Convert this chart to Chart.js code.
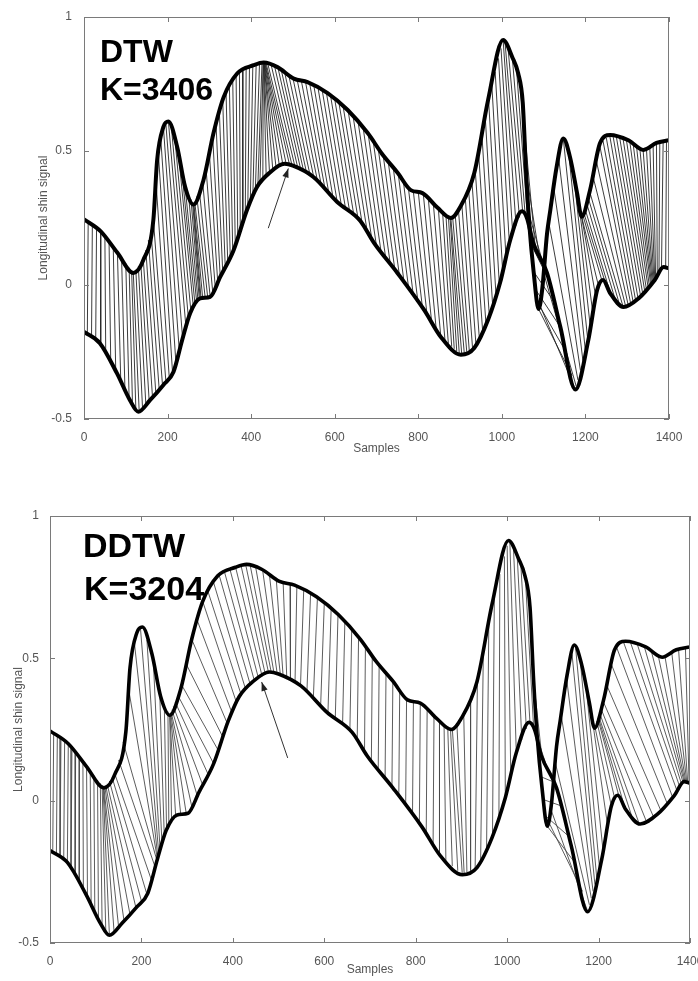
<!DOCTYPE html>
<html><head><meta charset="utf-8">
<script src="https://cdn.jsdelivr.net/npm/chart.js@4"></script>
<style>
html,body{margin:0;padding:0;background:#fff;overflow:hidden;width:698px;height:981px;position:relative;}
canvas{position:absolute;left:0;}
#c1{top:0}
#c2{top:460px}
</style></head><body>
<canvas id="c1" width="698" height="460"></canvas>
<canvas id="c2" width="730" height="521"></canvas>
<script>
// ---- signals (samples, value) ----
const upperX = [0,40,80,118,142,166,175,190,202,223,242,262,286,310,334,367,406,430,463,502,535,583,631,679,713,751,782,810,845,878,900,934,967,1003,1025,1039,1050,1058,1066,1076,1088,1097,1108,1116,1131,1147,1163,1180,1191,1211,1235,1259,1303,1339,1370,1400];
const upperY = [0.245,0.20,0.12,0.045,0.093,0.243,0.466,0.59,0.61,0.515,0.366,0.30,0.392,0.567,0.70,0.79,0.82,0.83,0.813,0.77,0.757,0.716,0.653,0.567,0.49,0.418,0.354,0.343,0.29,0.25,0.29,0.418,0.69,0.914,0.85,0.79,0.68,0.42,0.22,0.05,-0.09,-0.01,0.19,0.28,0.44,0.547,0.478,0.343,0.255,0.354,0.53,0.56,0.54,0.504,0.53,0.54];
const lowerX = [0,38,79,110,130,158,190,214,235,254,278,302,326,358,390,414,445,480,500,549,606,661,694,750,814,854,902,934,967,996,1020,1048,1060,1075,1108,1140,1176,1207,1228,1242,1259,1291,1327,1366,1387,1400];
const lowerY = [-0.175,-0.217,-0.33,-0.43,-0.473,-0.43,-0.373,-0.325,-0.205,-0.105,-0.05,-0.044,0.03,0.13,0.28,0.366,0.42,0.452,0.445,0.403,0.31,0.24,0.157,0.045,-0.093,-0.194,-0.26,-0.235,-0.13,0.01,0.168,0.275,0.25,0.157,0.045,-0.157,-0.39,-0.205,-0.019,0.019,-0.03,-0.082,-0.05,0.019,0.067,0.062];

// ---- warping paths: [upper sample, lower sample] ----
const dtwPairs = [[0,0],[10,8],[20,18],[30,28],[40,40],[50,52],[60,64],[70,76],[80,88],[90,98],[100,108],[108,116],[114,124],[118,132],[124,140],[130,148],[136,156],[142,164],[148,172],[154,180],[160,188],[166,196],[172,204],[178,212],[184,220],[190,228],[196,236],[202,244],[210,250],[218,256],[226,262],[234,266],[242,270],[250,273],[256,276],[260,278],[262,280],[263,284],[265,290],[270,296],[276,302],[284,308],[292,314],[300,320],[308,326],[316,332],[324,338],[332,344],[340,350],[348,356],[356,362],[364,368],[372,374],[380,380],[388,386],[396,392],[404,398],[412,404],[420,410],[426,416],[429,421],[429,428],[430,436],[430,444],[431,452],[431,460],[432,468],[433,476],[434,484],[436,492],[440,498],[448,505],[456,512],[464,519],[472,526],[480,533],[490,541],[500,550],[510,559],[520,568],[530,577],[540,586],[550,596],[560,606],[570,616],[580,626],[590,636],[600,646],[610,656],[620,666],[632,678],[644,689],[656,700],[668,711],[680,722],[692,733],[704,744],[716,755],[728,766],[740,777],[752,788],[764,799],[776,810],[788,821],[800,832],[812,843],[824,854],[836,864],[848,872],[858,880],[866,886],[872,892],[876,898],[878,904],[882,910],[888,916],[896,922],[904,930],[912,938],[920,946],[928,954],[936,962],[944,970],[952,978],[960,986],[968,994],[976,1002],[984,1010],[992,1018],[998,1026],[1003,1034],[1008,1042],[1015,1050],[1025,1056],[1035,1062],[1045,1070],[1052,1080],[1058,1090],[1064,1100],[1070,1112],[1076,1125],[1082,1140],[1086,1155],[1088,1168],[1090,1176],[1100,1178],[1112,1182],[1124,1188],[1136,1194],[1147,1200],[1160,1206],[1172,1212],[1182,1218],[1188,1225],[1191,1232],[1193,1240],[1195,1250],[1198,1260],[1202,1270],[1206,1280],[1210,1290],[1218,1296],[1226,1302],[1234,1308],[1242,1314],[1250,1320],[1258,1326],[1266,1332],[1274,1337],[1282,1342],[1290,1346],[1298,1350],[1306,1353],[1314,1356],[1322,1358],[1330,1360],[1338,1362],[1346,1364],[1354,1366],[1362,1368],[1370,1372],[1378,1376],[1386,1382],[1394,1392],[1400,1400]];
const ddtwPairs = [[0,0],[8,6],[16,14],[24,22],[32,30],[40,38],[48,46],[56,55],[64,64],[72,73],[80,82],[88,90],[96,98],[104,106],[110,114],[114,122],[116,130],[117,140],[118,150],[120,162],[122,175],[125,188],[130,200],[136,212],[142,222],[150,230],[160,234],[172,235],[185,236],[198,238],[212,241],[226,245],[240,250],[250,255],[258,260],[262,266],[262,275],[263,286],[264,298],[265,310],[267,322],[270,334],[274,346],[280,358],[288,368],[298,378],[310,388],[322,398],[334,408],[346,418],[358,428],[370,438],[382,447],[394,456],[406,464],[418,471],[428,478],[438,484],[450,490],[465,497],[480,504],[495,510],[510,518],[525,526],[540,536],[555,548],[570,562],[585,576],[600,592],[615,608],[630,624],[645,640],[660,656],[675,672],[690,688],[705,703],[720,718],[735,733],[750,748],[765,763],[780,778],[795,793],[810,808],[825,823],[840,838],[852,852],[862,866],[870,880],[876,892],[880,902],[890,906],[905,912],[920,920],[935,930],[948,942],[960,955],[972,968],[984,982],[994,996],[1000,1008],[1006,1020],[1014,1032],[1022,1042],[1030,1050],[1040,1058],[1050,1066],[1058,1076],[1066,1088],[1074,1102],[1080,1118],[1085,1135],[1088,1150],[1090,1165],[1095,1175],[1105,1180],[1118,1184],[1130,1188],[1142,1192],[1150,1196],[1160,1202],[1172,1210],[1184,1220],[1192,1228],[1196,1236],[1198,1246],[1199,1258],[1200,1272],[1202,1288],[1205,1304],[1210,1320],[1218,1336],[1228,1350],[1240,1362],[1255,1372],[1270,1378],[1285,1382],[1300,1385],[1315,1387],[1330,1389],[1345,1391],[1360,1393],[1375,1395],[1390,1398],[1400,1400]];

// ---- arrows [x,y] tail -> head ----
const dtwArrow = [[441,0.212],[489,0.435]];
const ddtwArrow = [[520,0.15],[463,0.417]];

// ---- axes ----
const xTicks = [0,200,400,600,800,1000,1200,1400];
const yTicks = [-0.5,0,0.5,1];
const xTitle = 'Samples';
const yTitle = 'Longitudinal shin signal';

function curveAt(xs, ys, x){
  for(let i=1;i<xs.length;i++){ if(x<=xs[i]){ const t=(x-xs[i-1])/(xs[i]-xs[i-1]); return ys[i-1]+t*(ys[i]-ys[i-1]); } }
  return ys[ys.length-1];
}
function toPts(xs, ys){ return xs.map((x,i)=>({x:x,y:ys[i]})); }

const boxPlugin = {
  id:'box',
  afterDraw(chart, args, o){
    const ctx = chart.ctx, a = chart.chartArea, sx = chart.scales.x, sy = chart.scales.y;
    ctx.save();
    ctx.strokeStyle = '#7a7a7a'; ctx.lineWidth = 1;
    ctx.strokeRect(a.left+0.5, a.top+0.5, a.right-a.left-1, a.bottom-a.top-1);
    ctx.beginPath();
    xTicks.forEach(v=>{ const p=Math.round(sx.getPixelForValue(v))+0.5; ctx.moveTo(p,a.bottom); ctx.lineTo(p,a.bottom-5); ctx.moveTo(p,a.top); ctx.lineTo(p,a.top+5); });
    yTicks.forEach(v=>{ const p=Math.round(sy.getPixelForValue(v))+0.5; ctx.moveTo(a.left,p); ctx.lineTo(a.left+5,p); ctx.moveTo(a.right,p); ctx.lineTo(a.right-5,p); });
    ctx.stroke();
    // arrow head
    const ar = o.arrow;
    const x0=sx.getPixelForValue(ar[0][0]), y0=sy.getPixelForValue(ar[0][1]);
    const x1=sx.getPixelForValue(ar[1][0]), y1=sy.getPixelForValue(ar[1][1]);
    const ang=Math.atan2(y1-y0,x1-x0), L=9, W=3.2;
    ctx.fillStyle='#222';
    ctx.beginPath();
    ctx.moveTo(x1,y1);
    ctx.lineTo(x1-L*Math.cos(ang)+W*Math.sin(ang), y1-L*Math.sin(ang)-W*Math.cos(ang));
    ctx.lineTo(x1-L*Math.cos(ang)-W*Math.sin(ang), y1-L*Math.sin(ang)+W*Math.cos(ang));
    ctx.closePath(); ctx.fill();
    // method label
    ctx.fillStyle='#000';
    ctx.font = 'bold '+o.fontSize+'px "Liberation Sans", Arial, sans-serif';
    ctx.textBaseline='alphabetic'; ctx.textAlign='left';
    o.lines.forEach(l=>ctx.fillText(l.t, l.x, l.y));
    ctx.restore();
  }
};

function makeChart(id, cfg){
  const warp = [];
  cfg.pairs.forEach(([u,l])=>{
    warp.push({x:u, y:curveAt(upperX, upperY, u)});
    warp.push({x:l, y:curveAt(lowerX, lowerY, l)});
    warp.push({x:l, y:null});
  });
  const tickFont = {family:'"Liberation Sans", Arial, sans-serif', size:12};
  return new Chart(document.getElementById(id), {
    type:'line',
    data:{ datasets:[
      {data:toPts(upperX,upperY), borderColor:'#000', borderWidth:cfg.curveW, pointRadius:0, cubicInterpolationMode:'monotone', order:0},
      {data:toPts(lowerX,lowerY), borderColor:'#000', borderWidth:cfg.curveW, pointRadius:0, cubicInterpolationMode:'monotone', order:0},
      {data:warp, borderColor:cfg.warpColor, borderWidth:0.9, pointRadius:0, tension:0, spanGaps:false, order:2},
      {data:cfg.arrow.map(p=>({x:p[0],y:p[1]})), borderColor:'#333', borderWidth:1, pointRadius:0, tension:0, order:1}
    ]},
    options:{
      responsive:false, animation:false, devicePixelRatio:1, events:[],
      layout:{padding:cfg.padding},
      plugins:{legend:{display:false}, tooltip:{enabled:false}, box:{arrow:cfg.arrow, lines:cfg.lines, fontSize:cfg.fontSize}},
      scales:{
        x:{type:'linear', min:0, max:1400, afterBuildTicks(s){ s.ticks = xTicks.map(v=>({value:v})); },
           afterFit(s){ s.height = cfg.xH; },
           grid:{display:false}, border:{display:false},
           ticks:{color:'#555', font:tickFont, padding:cfg.xPad, maxRotation:0, autoSkip:false, callback:v=>String(v)},
           title:{display:true, text:xTitle, color:'#555', font:tickFont, padding:{top:0,bottom:cfg.xTitlePad}}},
        y:{type:'linear', min:-0.5, max:1, afterBuildTicks(s){ s.ticks = yTicks.map(v=>({value:v})); },
           afterFit(s){ s.width = cfg.yW; },
           grid:{display:false}, border:{display:false},
           ticks:{color:'#555', font:tickFont, padding:cfg.yPad, callback:v=>String(v)},
           title:{display:true, text:yTitle, color:'#555', font:tickFont, padding:{top:cfg.yTitlePad,bottom:0}}}
      }
    },
    plugins:[boxPlugin]
  });
}

makeChart('c1', {pairs:dtwPairs, arrow:dtwArrow, curveW:4, warpColor:'#262626',
  padding:{top:17,right:29,bottom:0,left:0}, xH:41, yW:84, xPad:3, yPad:4, xTitlePad:4, yTitlePad:36,
  fontSize:32, lines:[{t:'DTW',x:100,y:62},{t:'K=3406',x:100,y:100}]});
makeChart('c2', {pairs:ddtwPairs, arrow:ddtwArrow, curveW:3.6, warpColor:'#4a4a4a',
  padding:{top:56,right:40,bottom:0,left:0}, xH:38, yW:50, xPad:3, yPad:3, xTitlePad:4, yTitlePad:11,
  fontSize:34, lines:[{t:'DDTW',x:83,y:97},{t:'K=3204',x:84,y:140}]});
</script>
</body></html>
